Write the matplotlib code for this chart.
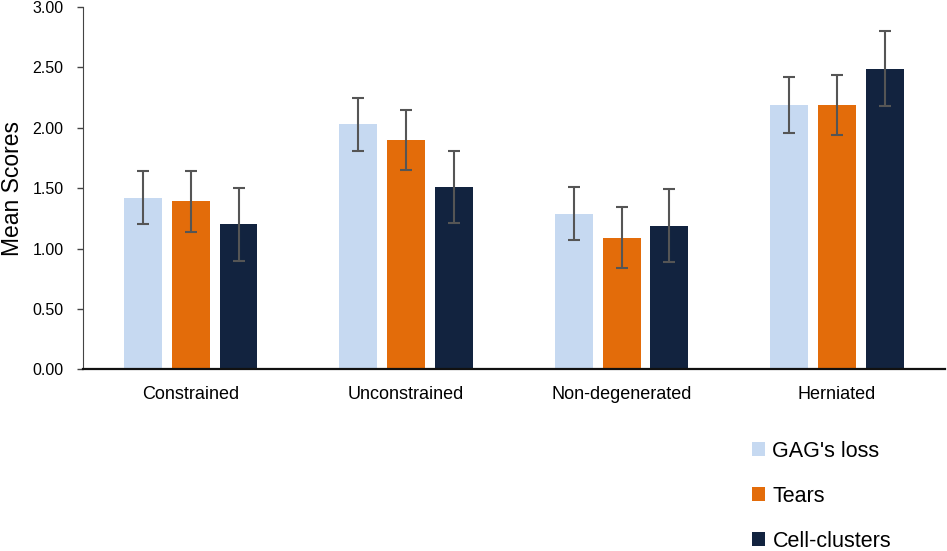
import matplotlib
matplotlib.use("Agg")
import matplotlib.pyplot as plt
from matplotlib.patches import Patch
from matplotlib.ticker import FormatStrFormatter
import numpy as np

plt.rcParams["font.family"] = ["Liberation Sans", "DejaVu Sans"]

categories = ["Constrained", "Unconstrained", "Non-degenerated", "Herniated"]
series_names = ["GAG's loss", "Tears", "Cell-clusters"]
colors = ["#c6d9f1", "#e36c0a", "#12233f"]

gag_loss = [1.42, 2.03, 1.29, 2.19]
tears = [1.39, 1.90, 1.09, 2.19]
cell_clusters = [1.20, 1.51, 1.19, 2.49]

gag_err = [0.22, 0.22, 0.22, 0.23]
tears_err = [0.25, 0.25, 0.25, 0.25]
cell_err = [0.30, 0.30, 0.30, 0.31]

values = [gag_loss, tears, cell_clusters]
errors = [gag_err, tears_err, cell_err]

fig = plt.figure(figsize=(9.47, 5.51), dpi=100)
ax = fig.add_axes([0.0876, 0.330, 0.910, 0.657])

x = np.arange(len(categories))
bar_width = 0.176
step = 0.222

for i, (vals, errs) in enumerate(zip(values, errors)):
    pos = x + (i - 1) * step
    ax.bar(pos, vals, width=bar_width, color=colors[i], label=series_names[i], zorder=2)
    ax.errorbar(pos, vals, yerr=errs, fmt="none", ecolor="#555555",
                elinewidth=1.5, capsize=4, capthick=1.5, zorder=3)

ax.set_xlim(-0.5, len(categories) - 0.5)
ax.set_ylim(0, 3.0)
ax.set_yticks(np.arange(0, 3.01, 0.5))
ax.yaxis.set_major_formatter(FormatStrFormatter("%.2f"))
ax.set_xticks(x)
ax.set_xticklabels(categories, fontsize=13)
ax.tick_params(axis="x", length=0, pad=12)
ax.tick_params(axis="y", labelsize=11.5, length=4, width=1, color="#444444", pad=10)

ax.spines["top"].set_visible(False)
ax.spines["right"].set_visible(False)
ax.spines["left"].set_color("#444444")
ax.spines["bottom"].set_linewidth(1.6)
ax.spines["bottom"].set_color("#111111")

ax.set_ylabel("Mean Scores", fontsize=16.5)
ax.yaxis.set_label_coords(-0.068, 0.5)

handles = [Patch(facecolor=c, label=n) for c, n in zip(colors, series_names)]
fig.legend(handles=handles, loc="upper left", bbox_to_anchor=(0.785, 0.216),
           frameon=False, fontsize=15.5, handlelength=0.6, handleheight=0.6,
           handletextpad=0.35, labelspacing=1.12, borderaxespad=0)

fig.savefig("out.png", dpi=100)
